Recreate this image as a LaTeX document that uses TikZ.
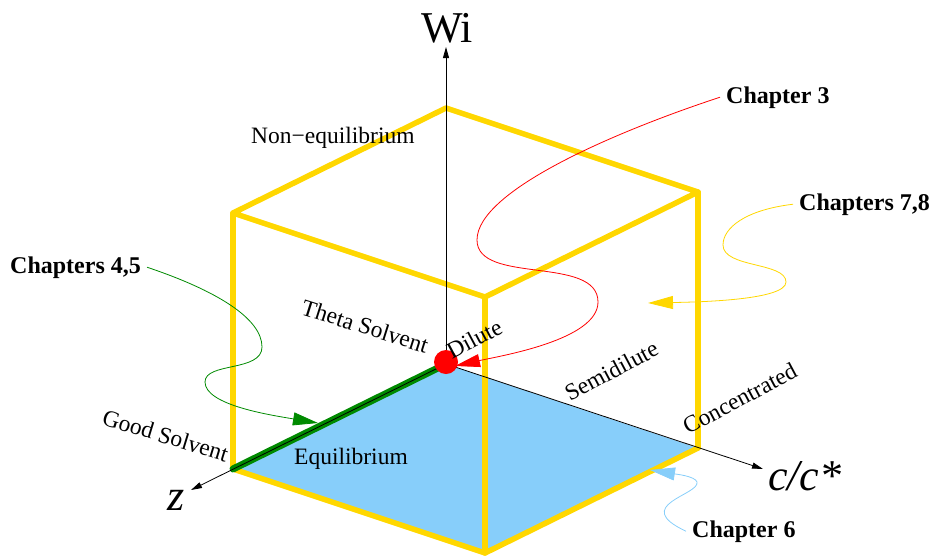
\documentclass[tikz,border=0pt]{standalone}
\usepackage{fontspec}
\setmainfont{Liberation Serif}
\usetikzlibrary{arrows.meta}
\definecolor{cubeGold}{HTML}{FFD700}
\definecolor{planeBlue}{HTML}{87CEFA}
\definecolor{chapGreen}{HTML}{008A00}
\definecolor{chapRed}{HTML}{FF0000}
\tikzset{
  every node/.style={inner sep=0pt},
  edge/.style={draw=cubeGold, line width=5.5pt, line cap=round, line join=round},
  axis/.style={-{Triangle[length=11pt,width=6pt]}, line width=0.8pt, draw=black},
  pointer/.style={-{Triangle[length=25pt,width=13pt]}, line width=0.8pt},
  goodline/.style={draw=chapGreen, line width=7pt, line cap=round},
  chap/.style={font=\fontsize{24}{28}\selectfont\bfseries, anchor=base west, inner sep=6pt},
  region/.style={font=\fontsize{23.5}{27}\selectfont, anchor=base west},
  axlabel/.style={font=\fontsize{44}{48}\selectfont, anchor=base west}
}
\begin{document}
\begin{tikzpicture}[x=1pt,y=-1pt]
  \useasboundingbox (0,0) rectangle (933,557);
  % cube corners
  \coordinate (o) at (446,364);
  \coordinate (t) at (446,108);
  \coordinate (l) at (233,213);
  \coordinate (r) at (698,192);
  \coordinate (f) at (485,297);
  \coordinate (lb) at (233,469);
  \coordinate (rb) at (698,448);
  \coordinate (fb) at (485,553);
  \coordinate (wiend) at (446,47);
  \coordinate (zend) at (191,490);
  \coordinate (cend) at (763,469);

  \fill[planeBlue] (o) -- (lb) -- (fb) -- (rb) -- cycle;
  \draw[edge] (lb) -- (fb) -- (rb);
  \draw[edge] (l) -- (lb) (f) -- (fb) (r) -- (rb);
  \draw[edge] (t) -- (l) -- (f) -- (r) -- cycle;

  \draw[goodline] (o) -- (lb);
  \draw[axis] (o) -- (wiend);
  \draw[axis] (o) -- (zend);
  \draw[axis] (o) -- (cend);
  \fill[chapRed] (446,362) circle (12);

  \node[axlabel] (wi) at (421,42) {Wi};
  \node[axlabel] (zlab) at (167,510) {\itshape z};
  \node[axlabel] (clab) at (768,490) {\itshape c/c*};

  \node[region] (neq) at (251,143) {Non−equilibrium};
  \node[region] (eq) at (294,464) {Equilibrium};
  \node[region, rotate=-17.5] (theta) at (300,314) {Theta Solvent};
  \node[region, rotate=-17] (good) at (101,424) {Good Solvent};
  \node[region, rotate=28] (dil) at (452,360) {Dilute};
  \node[region, rotate=28] (semi) at (570,402) {Semidilute};
  \node[region, rotate=28] (conc) at (688,435) {Concentrated};

  \node[chap] (ch3) at (720,103) {Chapter 3};
  \node[chap] (ch45) at (4,273) {Chapters 4,5};
  \node[chap] (ch78) at (793,210) {Chapters 7,8};
  \node[chap] (ch6) at (686,537) {Chapter 6};

  \coordinate (tip3) at (455,366);
  \coordinate (tip45) at (318,423);
  \coordinate (tip78) at (648,303);
  \coordinate (tip6) at (650,470);

  \draw[pointer, draw=chapRed] (ch3.west) .. controls (620,130) and (477,190) .. (477,240)
    .. controls (477,285) and (598,255) .. (598,302)
    .. controls (598,340) and (500,356) .. (tip3);
  \draw[pointer, draw=chapGreen] (ch45.east) .. controls (215,290) and (262,318) .. (262,347)
    .. controls (262,372) and (205,362) .. (205,382)
    .. controls (205,405) and (270,415) .. (tip45);
  \draw[pointer, draw=cubeGold] (ch78.west) .. controls (745,210) and (723,228) .. (723,245)
    .. controls (723,268) and (786,262) .. (786,282)
    .. controls (786,300) and (700,302) .. (tip78);
  \draw[pointer, draw=planeBlue] (ch6.west) .. controls (630,505) and (700,495) .. (697,482)
    .. controls (695,476) and (675,474) .. (tip6);
\end{tikzpicture}
\end{document}
